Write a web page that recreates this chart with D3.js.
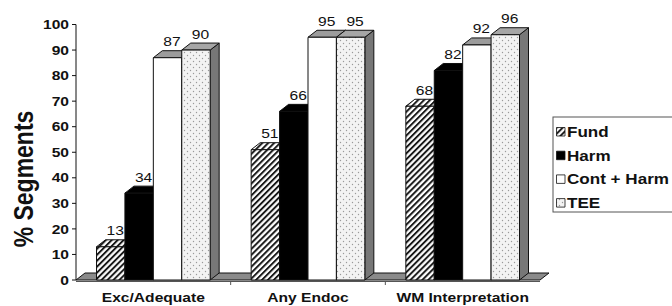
<!DOCTYPE html>
<html lang="en">
<head>
  <meta charset="UTF-8">
  <title>% Segments by method</title>
  <style>
    html, body {
      margin: 0;
      padding: 0;
      background-color: #fff;
    }

    svg text {
      font-family: "Liberation Sans", Arial, sans-serif;
      fill: #111;
    }

    .bold {
      font-weight: bold;
    }

    .face {
      stroke: #111;
      stroke-width: 1;
      stroke-linejoin: round;
    }
  </style>
</head>
<body>
  <script src="https://d3js.org/d3.v7.min.js"></script>
  <script>
    const categories = ['Exc/Adequate', 'Any Endoc', 'WM Interpretation']
    const seriesNames = ['Fund', 'Harm', 'Cont + Harm', 'TEE']
    const fund = [13, 51, 68]
    const harm = [34, 66, 82]
    const contHarm = [87, 95, 92]
    const tee = [90, 95, 96]
    const yTicks = [0, 10, 20, 30, 40, 50, 60, 70, 80, 90, 100]

    const values = [fund, harm, contHarm, tee]

    const width = 672,
          height = 306,
          depthX = 9,
          depthY = 7,
          stretch = 1.2

    // front / top / side fills per series
    const faces = [
      { front: 'url(#hatch)', top: 'url(#hatch)', side: '#777' },
      { front: '#000', top: '#000', side: '#444' },
      { front: '#fff', top: '#9c9c9c', side: '#777' },
      { front: 'url(#dots)', top: '#a6a6a6', side: '#777' },
    ]

    const svg = d3.select('body')
      .append('svg')
      .attr('width', width)
      .attr('height', height)

    const defs = svg.append('defs')

    const hatch = defs.append('pattern')
      .attr('id', 'hatch')
      .attr('patternUnits', 'userSpaceOnUse')
      .attr('width', 4.2)
      .attr('height', 4.2)
      .attr('patternTransform', 'rotate(45)')
    hatch.append('rect').attr('width', 4.2).attr('height', 4.2).attr('fill', '#fff')
    hatch.append('line')
      .attr('x1', 1).attr('x2', 1).attr('y1', 0).attr('y2', 4.2)
      .attr('stroke', '#111').attr('stroke-width', 1.9)

    const dots = defs.append('pattern')
      .attr('id', 'dots')
      .attr('patternUnits', 'userSpaceOnUse')
      .attr('width', 6)
      .attr('height', 6)
    dots.append('rect').attr('width', 6).attr('height', 6).attr('fill', '#f3f3f3')
    dots.append('circle').attr('cx', 1.5).attr('cy', 1.5).attr('r', 0.7).attr('fill', '#9a9a9a')
    dots.append('circle').attr('cx', 4.5).attr('cy', 4.5).attr('r', 0.7).attr('fill', '#9a9a9a')

    const y = d3.scaleLinear().domain([0, 100]).range([280, 24.5])
    const x0 = d3.scaleBand().domain(categories).range([76, 540])
    const x1 = d3.scaleBand().domain(seriesNames).range([20.5, x0.bandwidth() - 20.5])

    // stretched text helper (the original is wider than regular Arial)
    const addText = (g, x, yy, str, opts = {}) => g.append('text')
      .attr('transform', `translate(${x},${yy}) scale(${opts.sx || stretch},1)${opts.rotate ? ' rotate(' + opts.rotate + ')' : ''}`)
      .attr('text-anchor', opts.anchor || 'middle')
      .attr('class', opts.bold ? 'bold' : null)
      .style('font-size', `${opts.size || 13}px`)
      .text(str)

    // floor
    const [fx0, fx1] = x0.range()
    svg.append('path')
      .attr('class', 'face')
      .attr('fill', '#8a8a8a')
      .attr('d', `M${fx0},${y(0)}L${fx1},${y(0)}L${fx1 + depthX},${y(0) - depthY}L${fx0 + depthX},${y(0) - depthY}Z`)

    // bars, drawn left to right so each front hides the previous side face
    const bars = svg.append('g')
    categories.forEach((cat, ci) => {
      seriesNames.forEach((s, si) => {
        const v = values[si][ci]
        const xl = x0(cat) + x1(s),
              xr = xl + x1.bandwidth(),
              yt = y(v),
              yb = y(0)
        const f = faces[si]

        bars.append('path')
          .attr('class', 'face')
          .attr('fill', f.side)
          .attr('d', `M${xr},${yt}L${xr + depthX},${yt - depthY}L${xr + depthX},${yb - depthY}L${xr},${yb}Z`)
        bars.append('path')
          .attr('class', 'face')
          .attr('fill', f.top)
          .attr('d', `M${xl},${yt}L${xl + depthX},${yt - depthY}L${xr + depthX},${yt - depthY}L${xr},${yt}Z`)
        bars.append('rect')
          .attr('class', 'face')
          .attr('fill', f.front)
          .attr('x', xl)
          .attr('y', yt)
          .attr('width', xr - xl)
          .attr('height', yb - yt)

        addText(bars, (xl + xr) / 2 + depthX / 2, yt - depthY - 4.5, v, { size: 12, sx: 1.3 })
      })
    })

    // y axis
    const axisG = svg.append('g')
    axisG.append('line')
      .attr('x1', 76).attr('x2', 76)
      .attr('y1', y(100)).attr('y2', y(0))
      .attr('stroke', '#111')
    yTicks.forEach(t => {
      axisG.append('line')
        .attr('x1', 72).attr('x2', 76)
        .attr('y1', y(t)).attr('y2', y(t))
        .attr('stroke', '#111')
      addText(axisG, 69, y(t) + 4.6, t, { anchor: 'end', bold: true })
    })

    // x axis
    axisG.append('line')
      .attr('x1', fx0).attr('x2', fx1)
      .attr('y1', y(0) + 1.5).attr('y2', y(0) + 1.5)
      .attr('stroke', '#555')
    categories.slice(1).forEach(cat => {
      axisG.append('line')
        .attr('x1', x0(cat)).attr('x2', x0(cat))
        .attr('y1', y(0) + 1.5).attr('y2', y(0) + 5)
        .attr('stroke', '#555')
    })
    categories.forEach(cat => {
      addText(axisG, x0(cat) + x0.bandwidth() / 2, 302, cat, { bold: true })
    })

    // y title
    addText(svg, 33, 179, '% Segments', { bold: true, size: 23, sx: 1.2, rotate: -90 })

    // legend
    const legend = svg.append('g')
    legend.append('rect')
      .attr('x', 553).attr('y', 117)
      .attr('width', 140).attr('height', 95)
      .attr('fill', '#fff')
      .attr('stroke', '#555')
    seriesNames.forEach((s, i) => {
      const cy = 132 + i * 23.7
      legend.append('rect')
        .attr('class', 'face')
        .attr('x', 556.5).attr('y', cy - 4.5)
        .attr('width', 8.5).attr('height', 8.5)
        .attr('fill', faces[i].front)
        .style('stroke-width', 0.8)
      addText(legend, 567, cy + 5, s, { anchor: 'start', bold: true, size: 14, sx: 1.22 })
    })
  </script>
</body>
</html>
